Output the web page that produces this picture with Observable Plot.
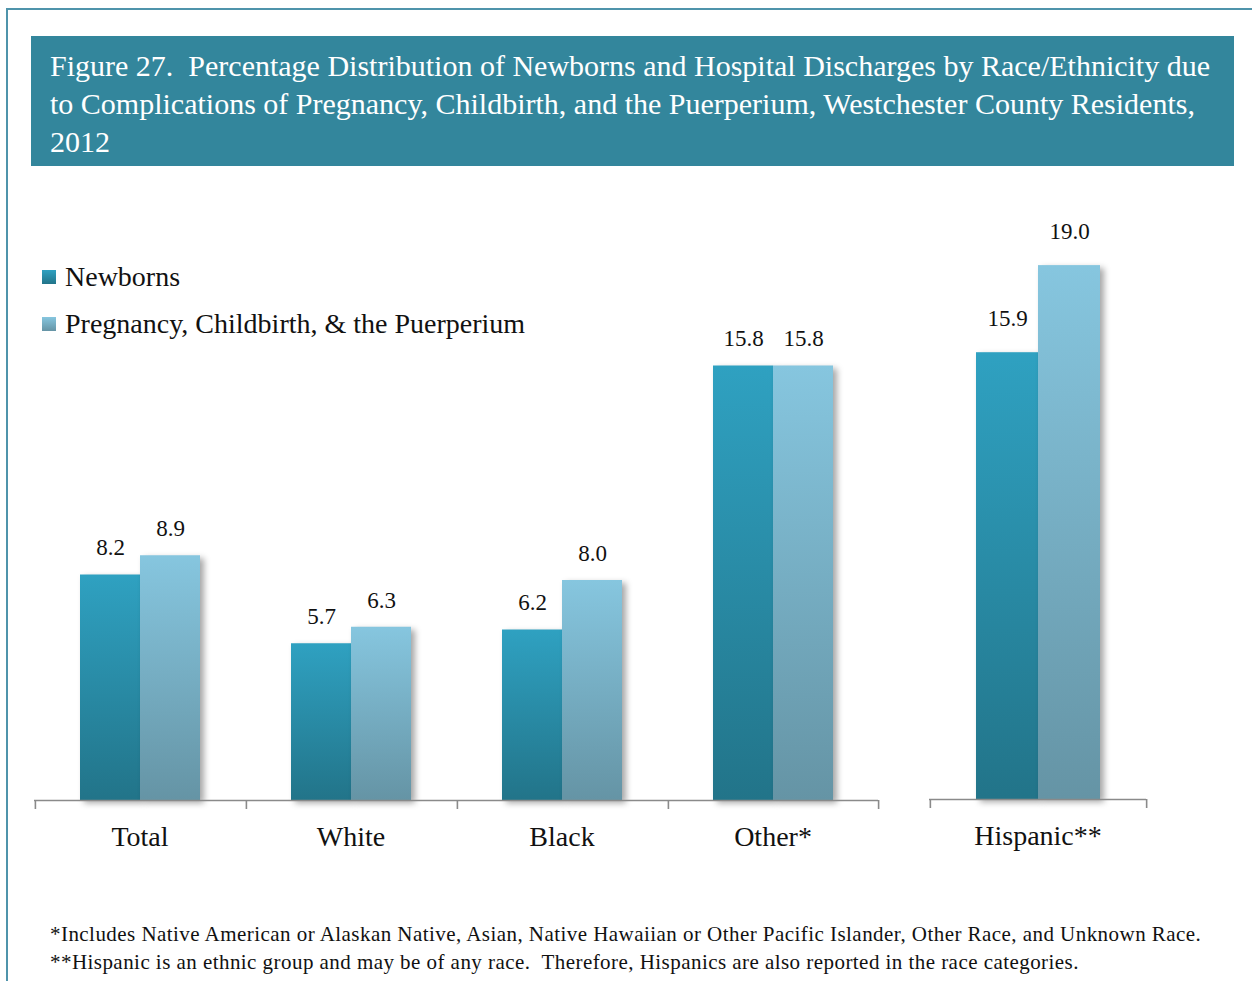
<!DOCTYPE html>
<html><head><meta charset="utf-8">
<script src="https://cdn.jsdelivr.net/npm/d3@7"></script>
<script src="https://cdn.jsdelivr.net/npm/@observablehq/plot@0.6"></script>
<style>
html,body{margin:0;padding:0;background:#fff;}
body{width:1252px;height:981px;position:relative;overflow:hidden;font-family:"Liberation Serif","DejaVu Serif",serif;color:#111;}
#frame{position:absolute;left:6px;top:8px;width:1300px;height:1100px;border-top:2px solid #4f94ab;border-left:2px solid #4f94ab;}
#title{position:absolute;left:31px;top:36px;width:1203px;height:130px;background:#33869c;color:#fff;font-size:30px;line-height:38px;box-sizing:border-box;padding:11px 0 0 19px;white-space:nowrap;}
#legend{position:absolute;left:42px;top:253px;font-size:28px;}
.item{display:flex;align-items:center;height:47px;white-space:nowrap;}
.sw{width:14px;height:14px;margin-right:9px;}
#left,#right{position:absolute;top:200px;}
#left{left:-2px;}
#right{left:900px;}
#notes{position:absolute;left:50px;top:920px;font-size:21px;letter-spacing:0.45px;line-height:28px;white-space:pre;}
</style>
</head><body>
<div id="frame"></div>
<div id="title">Figure 27.&nbsp; Percentage Distribution of Newborns and Hospital Discharges by Race/Ethnicity due<br>to Complications of Pregnancy, Childbirth, and the Puerperium, Westchester County Residents,<br>2012</div>
<div id="legend"></div>
<div id="left"></div>
<div id="right"></div>
<div id="notes"></div>
<script>
// ---- data ----
const series = ["Newborns", "Pregnancy, Childbirth, & the Puerperium"];
const raceCategories = ["Total", "White", "Black", "Other*"];
const raceNewborns = [8.2, 5.7, 6.2, 15.8];
const racePregnancy = [8.9, 6.3, 8.0, 15.8];
const ethnicCategories = ["Hispanic**"];
const ethnicNewborns = [15.9];
const ethnicPregnancy = [19.0];
const footnotes = [
  "*Includes Native American or Alaskan Native, Asian, Native Hawaiian or Other Pacific Islander, Other Race, and Unknown Race.",
  "**Hispanic is an ethnic group and may be of any race.  Therefore, Hispanics are also reported in the race categories."
];

// ---- styles ----
const grads = {
  a: ["#2fa1c1", "#227489"],
  b: ["#86c6df", "#6594a5"]
};
const fmt = d3.format(".1f");

function chart(cats, nb, pg, o) {
  const data = cats.flatMap((c, i) => [
    {cat: c, series: series[0], value: nb[i]},
    {cat: c, series: series[1], value: pg[i]}
  ]);
  const innerW = o.width - o.marginLeft - o.marginRight;
  const facetW = innerW / cats.length;
  const po = 0.73;
  const step = facetW / (2 + 2 * po);
  const edge = po * step + step / 2;
  const shadow = "drop-shadow(4px 3px 3px rgba(0,0,0,0.35))";
  const svg = Plot.plot({
    width: o.width, height: o.height,
    marginTop: o.marginTop, marginBottom: o.height - o.marginTop - o.innerH,
    marginLeft: o.marginLeft, marginRight: o.marginRight,
    style: {fontFamily: "'Liberation Serif', serif", fontSize: "23px", color: "#111", overflow: "visible", background: "transparent"},
    fx: {domain: cats, padding: 0},
    x: {domain: series, paddingInner: 0, paddingOuter: po, axis: null},
    y: {domain: [0, 20], axis: null},
    marks: [
      Plot.barY(data.filter(d => d.series === series[0]), {fx: "cat", x: "series", y: "value", fill: `url(#${o.id}-a)`, imageFilter: shadow}),
      Plot.barY(data.filter(d => d.series === series[1]), {fx: "cat", x: "series", y: "value", fill: `url(#${o.id}-b)`, imageFilter: shadow}),
      Plot.ruleY([0], {stroke: "#8a8a8a", strokeWidth: 1.6}),
      Plot.ruleX(data.filter(d => d.series === series[0]), {fx: "cat", x: "series", y1: 0, y2: 0, insetBottom: -9, dx: -edge, stroke: "#8a8a8a", strokeWidth: 1.6}),
      Plot.ruleX(data.filter(d => d.series === series[1] && d.cat === cats[cats.length - 1]), {fx: "cat", x: "series", y1: 0, y2: 0, insetBottom: -9, dx: edge, stroke: "#8a8a8a", strokeWidth: 1.6}),
      Plot.text(data, {fx: "cat", x: "series", y: "value", text: d => fmt(d.value), dy: o.dy, fontSize: 23, fill: "#111"}),
      Plot.axisFx({anchor: "bottom", tickSize: 0, tickPadding: 26, fontSize: 28, label: null, fill: "#111"})
    ]
  });
  const defs = d3.select(svg).insert("defs", ":first-child");
  for (const k of ["a", "b"]) {
    const g = defs.append("linearGradient").attr("id", `${o.id}-${k}`).attr("x1", 0).attr("y1", 0).attr("x2", 0).attr("y2", 1);
    g.append("stop").attr("offset", "0%").attr("stop-color", grads[k][0]);
    g.append("stop").attr("offset", "100%").attr("stop-color", grads[k][1]);
  }
  return svg;
}

document.getElementById("left").append(chart(raceCategories, raceNewborns, racePregnancy,
  {id: "race", width: 900, height: 660, marginTop: 50, innerH: 550, marginLeft: 35, marginRight: 20, dy: -27}));
document.getElementById("right").append(chart(ethnicCategories, ethnicNewborns, ethnicPregnancy,
  {id: "eth", width: 352, height: 660, marginTop: 37, innerH: 562, marginLeft: 29, marginRight: 106, dy: -34}));

// legend
const leg = d3.select("#legend");
series.forEach((s, i) => {
  const k = i === 0 ? "a" : "b";
  const it = leg.append("div").attr("class", "item");
  it.append("div").attr("class", "sw").style("background", `linear-gradient(${grads[k][0]}, ${grads[k][1]})`);
  it.append("span").text(s);
});
// notes
d3.select("#notes").selectAll("div").data(footnotes).join("div").text(d => d);
</script>
</body></html>
